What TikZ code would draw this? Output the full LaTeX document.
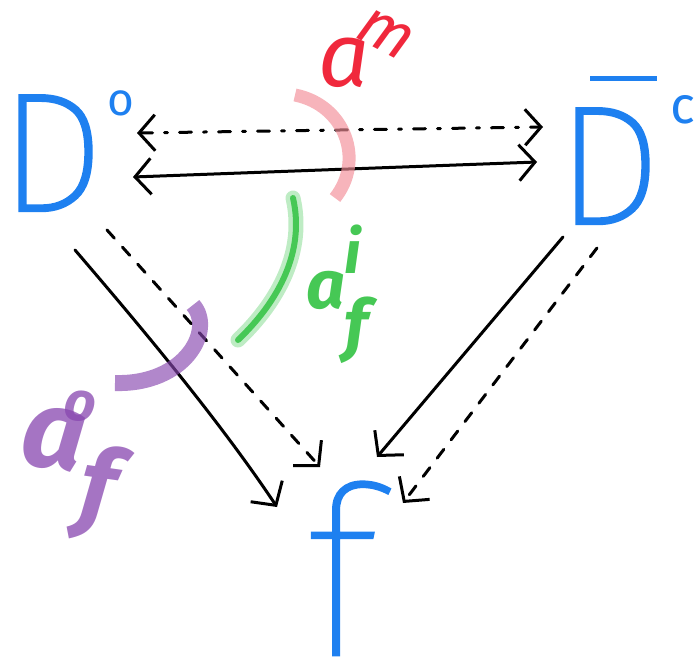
\documentclass[tikz,border=0pt]{standalone}
\usepackage{fontspec}
\usepackage{graphicx}
\usetikzlibrary{arrows.meta}
\newfontfamily\handD{Fira Sans Thin}[FakeBold=2.6]
\newfontfamily\handF{Fira Sans Thin}[FakeBold=1.2]
\newfontfamily\handL{Fira Sans}
\definecolor{penblue}{RGB}{30,128,240}
\definecolor{penred}{RGB}{240,40,60}
\definecolor{penpink}{RGB}{242,140,150}
\definecolor{pengreen}{RGB}{70,200,85}
\definecolor{penpurple}{RGB}{135,70,175}
\newcommand{\fsz}[1]{\fontsize{#1}{#1}\selectfont}
\tikzset{
  glyph/.style={inner sep=0pt, outer sep=0pt, anchor=base west},
  bluetext/.style={glyph, text=penblue},
  arr/.style={line width=3pt, draw=black, line cap=round, line join=round},
  both/.style={arr, {Straight Barb[length=16pt,width=36pt]}-{Straight Barb[length=16pt,width=36pt]}},
  one/.style={arr, -{Straight Barb[length=17pt,width=38pt]}},
  dashH/.style={dash pattern=on 12pt off 12pt on 3pt off 12pt},
  dashD/.style={dash pattern=on 11pt off 12pt},
  arcpen/.style={line cap=butt, opacity=0.65},
}
\begin{document}
\begin{tikzpicture}[x=1pt,y=-1pt]
\useasboundingbox (0,0) rectangle (698,658);
% main objects
\node[bluetext] (Do) at (0,210) {\handD\fsz{167}D\kern4pt\raisebox{95pt}{\handL\fsz{46}o}};
\node[bluetext] (Dbc) at (557,223) {\handD\fsz{167}\rlap{\kern33pt\raisebox{142pt}{\rule{67pt}{5pt}}}D\kern10pt\raisebox{100pt}{\handL\fsz{52}c}};
\node[bluetext] (f) at (305,655) {\handF\fsz{235}f};
% horizontal arrows
\draw[both, dashH] ([shift={(137,-77)}]Do.base west) -- ([shift={(-14,-96)}]Dbc.base west);
\draw[both] ([shift={(133,-33)}]Do.base west) -- ([shift={(-20,-61)}]Dbc.base west);
% diagonals
\draw[one] ([shift={(75,40)}]Do.base west) .. controls +(60,70) and +(-60,-90) .. ([shift={(-28,-148)}]f.base west);
\draw[one, dashD] ([shift={(107,20)}]Do.base west) -- ([shift={(15,-188)}]f.base west);
\draw[one] ([shift={(6,14)}]Dbc.base west) -- ([shift={(72,-198)}]f.base west);
\draw[one, dashD] ([shift={(40,25)}]Dbc.base west) -- ([shift={(98,-152)}]f.base west);
% red label and arc
\draw[arcpen, draw=penpink, line width=13pt] (295,95) .. controls (345,105) and (365,160) .. (335,198);
\node[glyph, text=penred] (am) at (318,87) {\handL\itshape\fsz{90}a\kern-16pt\raisebox{50pt}{\rotatebox{-28}{\fsz{64}m}}};
% green label and arc
\draw[draw=pengreen, opacity=0.35, line width=15pt, line cap=round] (293,198) .. controls (305,250) and (280,300) .. (238,340);
\draw[draw=pengreen, line width=6pt, line cap=round] (293,198) .. controls (305,250) and (280,300) .. (238,340);
\node[glyph, text=pengreen] (afi) at (306,308) {\handL\bfseries\itshape\fsz{68}a\rlap{\raisebox{35pt}{\fsz{60}i}}\raisebox{-40pt}{\fsz{68}f}};
% purple label and arc
\draw[arcpen, draw=penpurple, line width=16pt] (193,305) .. controls (215,330) and (185,385) .. (115,383);
\node[glyph, text=penpurple, opacity=0.75, rotate=-8] (afo) at (18,463) {\handL\bfseries\itshape\fsz{110}a\kern-25pt\rlap{\raisebox{50pt}{\fsz{55}o}}\kern28pt\raisebox{-46pt}{\fsz{100}f}};
\end{tikzpicture}
\end{document}
